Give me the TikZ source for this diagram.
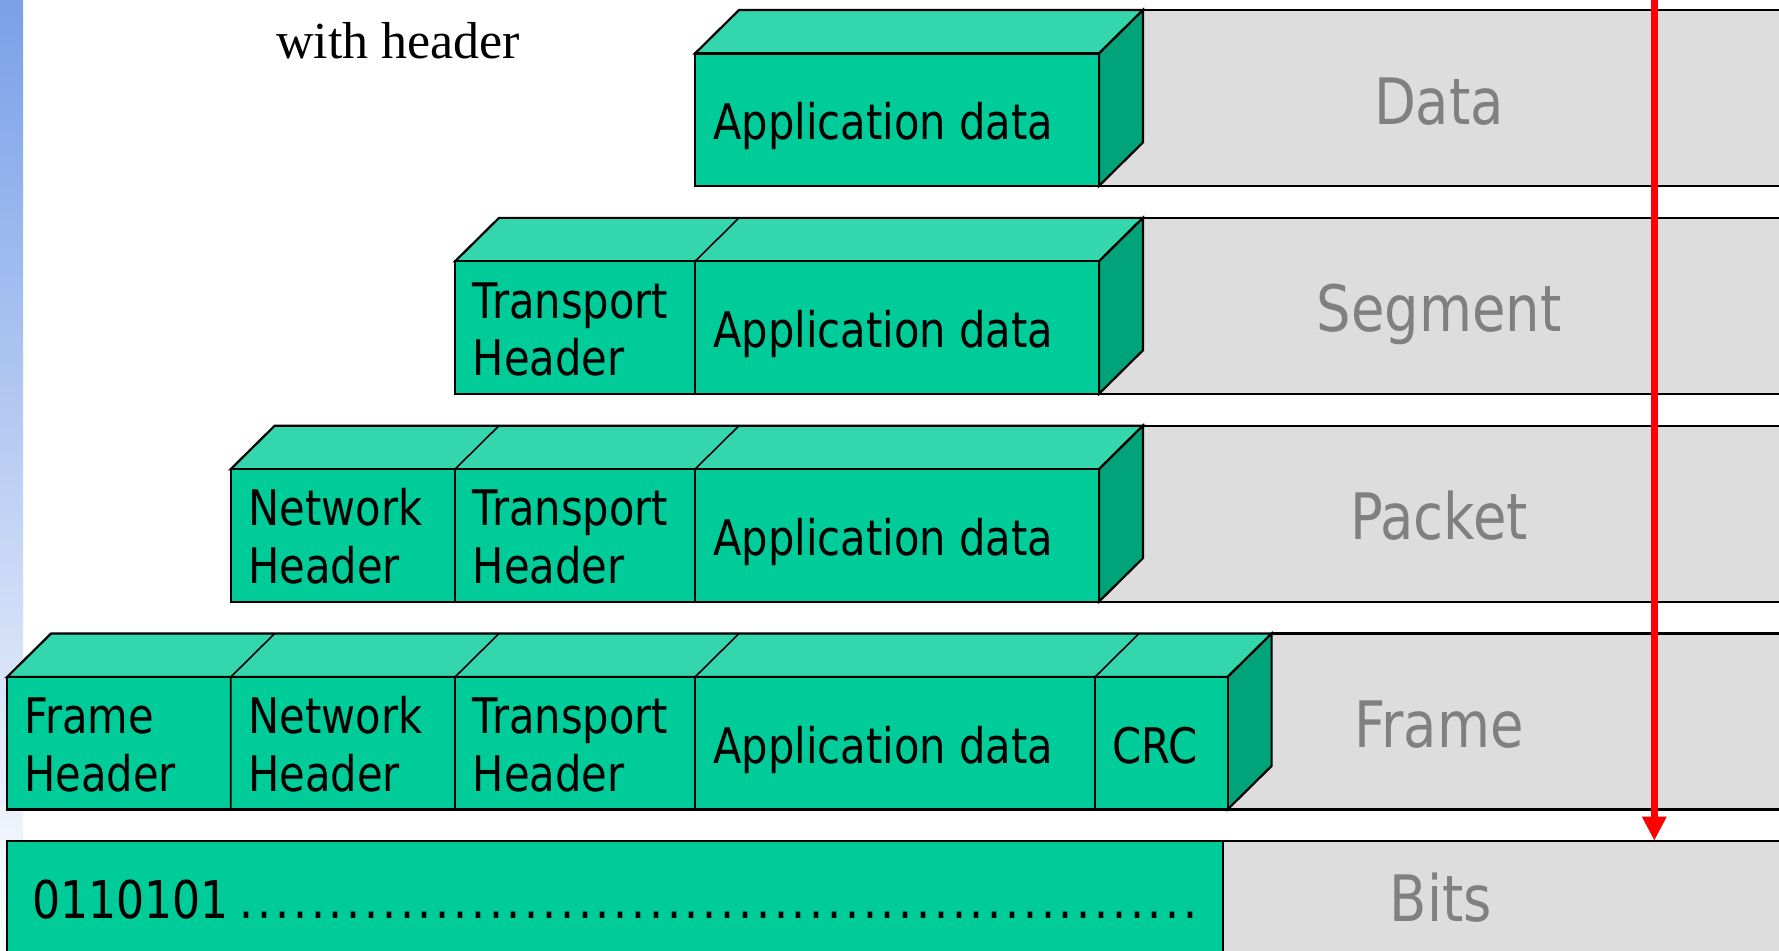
\documentclass[tikz,border=0pt]{standalone}
\usepackage{fontspec}
\usetikzlibrary{arrows.meta}
\setmainfont{Liberation Serif}
\newfontfamily\boxfont{DejaVu Sans}[FakeStretch=0.85]
\definecolor{frontc}{HTML}{00CC99}
\definecolor{topc}{HTML}{33D6AD}
\definecolor{sidec}{HTML}{00A37A}
\definecolor{grayc}{HTML}{DDDDDD}
\definecolor{labc}{HTML}{808080}
\definecolor{stripc}{HTML}{7AA0E8}
\definecolor{stripm}{HTML}{DCE5F8}
\newcommand\twoline[2]{\vtop{\hbox{#1}\hbox{#2}}}
\newcommand\dotcell{\hbox to 17.8pt{\hss.\hss}}
% #1 top y, #2 left x, #3 right x of front face
\newcommand\layerrow[3]{%
  \pgfmathsetmacro\rowT{#1}%
  \pgfmathsetmacro\rowF{#1+43.5}%
  \pgfmathsetmacro\rowB{#1+175.9}%
  \pgfmathsetmacro\rowS{#1+132.4}%
  \fill[grayc] (#3,\rowT) rectangle (1800,\rowB);
  \draw[outline] ({#3+44},\rowT) -- (1800,\rowT) (#3,\rowB) -- (1800,\rowB);
  \filldraw[outline,fill=topc] (#2,\rowF) -- ({#2+44},\rowT) -- ({#3+44},\rowT) -- (#3,\rowF) -- cycle;
  \filldraw[outline,fill=sidec] (#3,\rowF) -- ({#3+44},\rowT) -- ({#3+44},\rowS) -- (#3,\rowB) -- cycle;
  \filldraw[outline,fill=frontc] (#2,\rowF) rectangle (#3,\rowB);
}
% #1 top y, #2 divider x
\newcommand\celldiv[2]{%
  \draw[divider] (#2,{#1+43.5}) -- (#2,{#1+175.9}) (#2,{#1+43.5}) -- ({#2+44},#1);
}
\begin{document}
\begin{tikzpicture}[x=1pt,y=-1pt,
  outline/.style={draw=black,line width=2.2pt,line join=miter},
  divider/.style={draw=black,line width=1.6pt},
  boxtxt/.style={font=\boxfont\fontsize{49}{57.3}\selectfont,inner sep=0pt,anchor=base west,text=black},
  graylab/.style={font=\boxfont\fontsize{64}{70}\selectfont,inner sep=0pt,anchor=base,text=labc},
  bitstxt/.style={font=\boxfont\fontsize{52}{60}\selectfont,inner sep=0pt,anchor=base west,text=black},
  redarrow/.style={draw=red,line width=7.5pt,-{Triangle[length=24pt,width=23pt]}}]
\clip (0,0) rectangle (1779,950);
\fill[white] (0,0) rectangle (1779,950);
\shade[top color=stripc, middle color=stripm, bottom color=white] (0,0) rectangle (23,950);

% title text
\node[font=\fontsize{52}{60}\selectfont,anchor=base,inner sep=0pt] (hdr) at (398,58.3) {with header};

% Data row
\layerrow{10}{695}{1099}
\node[boxtxt] (d1) at (713,139.5) {Application data};
\node[graylab] (lData) at (1439,124) {Data};

% Segment row
\layerrow{217.85}{455}{1099}
\celldiv{217.85}{695}
\node[boxtxt] (s1) at (472.5,318.05) {\twoline{Transport}{Header}};
\node[boxtxt] (s2) at (713,347.35) {Application data};
\node[graylab] (lSeg) at (1439,331.9) {Segment};

% Packet row
\layerrow{425.7}{230.7}{1099}
\celldiv{425.7}{455}
\celldiv{425.7}{695}
\node[boxtxt] (p1) at (248.2,525.9) {\twoline{Network}{Header}};
\node[boxtxt] (p2) at (472.5,525.9) {\twoline{Transport}{Header}};
\node[boxtxt] (p3) at (713,555.2) {Application data};
\node[graylab] (lPkt) at (1439,539.7) {Packet};

% Frame row
\layerrow{633.55}{7}{1227.6}
\celldiv{633.55}{230.7}
\celldiv{633.55}{455}
\celldiv{633.55}{695}
\celldiv{633.55}{1095}
\node[boxtxt] (f1) at (24,733.75) {\twoline{Frame}{Header}};
\node[boxtxt] (f2) at (248.2,733.75) {\twoline{Network}{Header}};
\node[boxtxt] (f3) at (472.5,733.75) {\twoline{Transport}{Header}};
\node[boxtxt] (f4) at (713,763.05) {Application data};
\node[boxtxt] (f5) at (1112.5,763.05) {CRC};
\node[graylab] (lFrm) at (1439,747.5) {Frame};

% Bits row
\fill[frontc] (7,840.7) rectangle (1223,1000);
\fill[grayc] (1223,840.7) rectangle (1800,1000);
\draw[outline] (1800,840.7) -- (7,840.7) -- (7,1000);
\draw[divider] (1223,840.7) -- (1223,1000);
\node[bitstxt] (b1) at (32,918.3) {0110101\hspace{9pt}\foreach \k in {1,...,54}{\dotcell}};
\node[graylab] (lBits) at (1441,921.7) {Bits};

% red arrow
\coordinate (arrowstart) at (1654.3,-10);
\coordinate (arrowend) at (1654.3,840.7);
\draw[redarrow] (arrowstart) -- (arrowend);
\end{tikzpicture}
\end{document}
